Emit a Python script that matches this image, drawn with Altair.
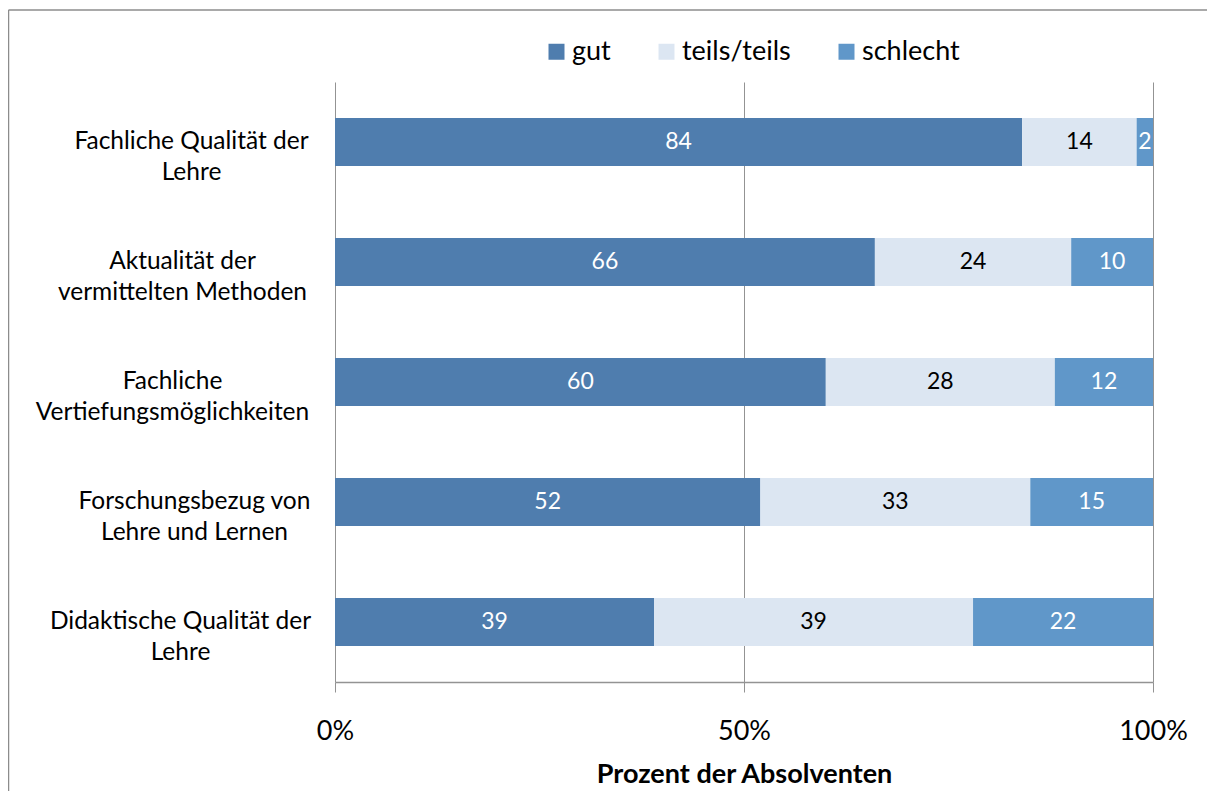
import altair as alt
import pandas as pd

# ---- data ----
categories = [
    "Fachliche Qualität der|Lehre",
    "Aktualität der|vermittelten Methoden",
    "Fachliche|Vertiefungsmöglichkeiten",
    "Forschungsbezug von|Lehre und Lernen",
    "Didaktische Qualität der|Lehre",
]
series = ["gut", "teils/teils", "schlecht"]
gut = [84, 66, 60, 52, 39]
teils = [14, 24, 28, 33, 39]
schlecht = [2, 10, 12, 15, 22]
colors = ["#4F7DAE", "#DCE6F2", "#6097C9"]
x_ticks = [0, 50, 100]
label_pad = [144, 153, 163, 141, 155]

rows = []
for i, cat in enumerate(categories):
    for j, (name, vals) in enumerate(zip(series, [gut, teils, schlecht])):
        rows.append({"category": cat, "series": name, "value": vals[i], "order": j})
df = pd.DataFrame(rows)

FONT = "Lato"
GRID = "#939393"

pad_cond = {
    "condition": [
        {"test": f"datum.value === '{c}'", "value": p}
        for c, p in zip(categories, label_pad)
    ],
    "value": 150,
}

base = alt.Chart(df).transform_stack(
    stack="value",
    groupby=["category"],
    sort=[alt.SortField("order", order="ascending")],
    as_=["x0", "x1"],
).transform_calculate(mid="(datum.x0 + datum.x1) / 2")

y_enc = alt.Y(
    "category:N",
    sort=categories,
    title=None,
    axis=alt.Axis(
        domain=False,
        ticks=False,
        grid=False,
        labelExpr="split(datum.label, '|')",
        labelAlign="center",
        labelBaseline="middle",
        labelFont=FONT,
        labelFontSize=24.5,
        labelColor="#000000",
        labelLineHeight=31,
        labelPadding=pad_cond,
        labelLimit=400,
    ),
)

bars = base.mark_bar(size=48).encode(
    x=alt.X(
        "x0:Q",
        scale=alt.Scale(domain=[0, 100], nice=False),
        axis=alt.Axis(
            values=x_ticks,
            labelExpr="datum.value + '%'",
            labelFlush=False,
            title="Prozent der Absolventen",
            grid=True,
            gridColor=GRID,
            gridWidth=1,
            domainColor=GRID,
            domainWidth=1.5,
            tickColor=GRID,
            tickSize=10,
            labelFont=FONT,
            labelFontSize=27,
            labelColor="#000000",
            labelPadding=26,
            titleFont=FONT,
            titleFontSize=27,
            titleFontWeight="bold",
            titleColor="#000000",
            titlePadding=17,
        ),
    ),
    x2="x1:Q",
    y=y_enc,
    color=alt.Color(
        "series:N",
        scale=alt.Scale(domain=series, range=colors),
        legend=alt.Legend(
            orient="none",
            legendX=208,
            legendY=-44,
            direction="horizontal",
            title=None,
            symbolType="square",
            symbolSize=256,
            symbolStrokeWidth=0,
            labelFont=FONT,
            labelFontSize=27,
            labelColor="#000000",
            labelOffset=2,
            columnPadding=42,
        ),
    ),
)

labels = base.mark_text(font=FONT, fontSize=23, baseline="middle", align="center").encode(
    x=alt.X("mid:Q"),
    y=alt.Y("category:N", sort=categories),
    text=alt.Text("value:Q"),
    color=alt.condition(
        alt.datum.series == "teils/teils", alt.value("#000000"), alt.value("#ffffff")
    ),
)

frame_df = pd.DataFrame({"a": [0]})
frame_top = alt.Chart(frame_df).mark_rule(stroke="#8c8c8c", strokeWidth=1.5).encode(
    x=alt.value(-326.5), x2=alt.value(880), y=alt.value(-72)
)
frame_left = alt.Chart(frame_df).mark_rule(stroke="#8c8c8c", strokeWidth=1.5).encode(
    x=alt.value(-326.5), y=alt.value(-72), y2=alt.value(720)
)

chart = alt.layer(frame_top, frame_left, bars, labels).properties(
    width=818,
    height=600,
    autosize=alt.AutoSizeParams(type="none"),
    padding={"left": 327, "top": 74, "right": 54, "bottom": 109},
).configure_view(stroke=None)

chart.save("out.html", embed_options={"renderer": "svg", "actions": False})
